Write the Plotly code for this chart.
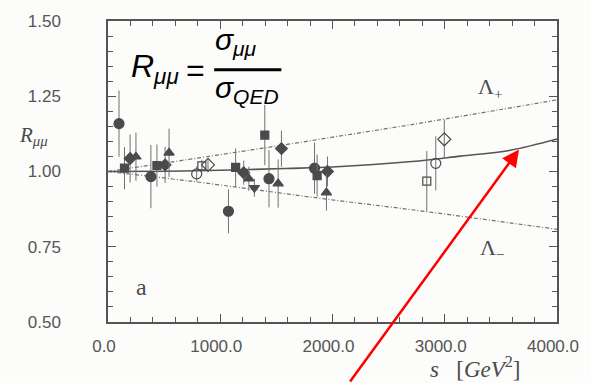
import plotly.graph_objects as go

# ---------------- data ----------------
circ_s = [98, 382, 1073, 1434, 1840]
circ_r = [1.159, 0.983, 0.868, 0.976, 1.011]
circ_e = [0.11, 0.105, 0.073, 0.095, 0.085]

sq_s = [147, 436, 1137, 1397, 1863]
sq_r = [1.011, 1.020, 1.014, 1.121, 0.986]
sq_e = [0.07, 0.07, 0.063, 0.10, 0.07]

dia_s = [197, 509, 1209, 1545, 1955]
dia_r = [1.043, 1.022, 0.996, 1.076, 1.000]
dia_e = [0.08, 0.06, 0.04, 0.06, 0.05]

tri_s = [249, 544, 1255, 1516, 1946]
tri_r = [1.049, 1.062, 0.976, 0.960, 0.930]
tri_e = [0.08, 0.08, 0.04, 0.08, 0.06]

itri_s = [1304]
itri_r = [0.946]
itri_e = [0.03]

ocirc_s = [790, 2920]
ocirc_r = [0.992, 1.027]
ocirc_e = [0.025, 0.09]

osq_s = [836, 2840]
osq_r = [1.019, 0.968]
osq_e = [0.02, 0.10]

odia_s = [891, 2996]
odia_r = [1.022, 1.107]
odia_e = [0.02, 0.065]

# theory curves
sm_s = [0, 500, 1000, 1579, 2000, 2707, 3141, 3575, 4000]
sm_r = [1.000, 1.001, 1.004, 1.010, 1.015, 1.033, 1.051, 1.070, 1.108]
lp_s = [0, 1000, 1579, 2000, 2707, 3500, 4000]
lp_r = [1.000, 1.056, 1.089, 1.114, 1.156, 1.206, 1.238]
lm_s = [0, 711, 2013, 2707, 4000]
lm_r = [1.000, 0.969, 0.905, 0.873, 0.808]

x_ticks = [0, 1000, 2000, 3000, 4000]
x_labels = ["0.0", "1000.0", "2000.0", "3000.0", "4000.0"]
y_ticks = [0.50, 0.75, 1.00, 1.25, 1.50]
y_labels = ["0.50", "0.75", "1.00", "1.25", "1.50"]

# ---------------- figure ----------------
W, H = 591, 383
L, R, T, B = 108, 22, 13, 61
ink = "#4a4a4a"
grey = "#707070"

def px(x):
    return (x - L) / (W - L - R)

def py(y):
    return (H - B - y) / (H - T - B)

fig = go.Figure()

def add_pts(s, r, e, symbol, size):
    fig.add_trace(go.Scatter(
        x=s, y=r, mode="markers",
        marker=dict(symbol=symbol, size=size, color=ink,
                    line=dict(color=ink, width=1.2)),
        error_y=dict(type="data", array=e, visible=True, color=grey,
                     thickness=1, width=0),
        showlegend=False))

# curves
fig.add_trace(go.Scatter(x=lp_s, y=lp_r, mode="lines", line_shape="spline",
                         line=dict(color=grey, width=1.2, dash="4px,2px,1px,2px"),
                         showlegend=False))
fig.add_trace(go.Scatter(x=lm_s, y=lm_r, mode="lines", line_shape="spline",
                         line=dict(color=grey, width=1.2, dash="4px,2px,1px,2px"),
                         showlegend=False))
fig.add_trace(go.Scatter(x=sm_s, y=sm_r, mode="lines", line_shape="spline",
                         line=dict(color="#555555", width=1.6),
                         showlegend=False))

add_pts(circ_s, circ_r, circ_e, "circle", 10)
add_pts(sq_s, sq_r, sq_e, "square", 8)
add_pts(dia_s, dia_r, dia_e, "diamond", 9)
add_pts(tri_s, tri_r, tri_e, "triangle-up", 9)
add_pts(itri_s, itri_r, itri_e, "triangle-down", 9)
add_pts(ocirc_s, ocirc_r, ocirc_e, "circle-open", 10)
add_pts(osq_s, osq_r, osq_e, "square-open", 8)
add_pts(odia_s, odia_r, odia_e, "diamond-open", 10)

axis_common = dict(showline=True, linecolor="#555555", linewidth=1.5,
                   mirror="allticks", ticks="inside", ticklen=8,
                   tickcolor="#555555", tickwidth=1, showgrid=False,
                   zeroline=False,
                   tickfont=dict(family="Liberation Sans", size=17, color="#555555"))

fig.update_xaxes(range=[0, 4000], tickvals=x_ticks, ticktext=x_labels,
                 minor=dict(dtick=200, ticks="inside", ticklen=5,
                            tickcolor="#555555", showgrid=False),
                 ticklabelstandoff=8, ticklabelshift=-4, **axis_common)
fig.update_yaxes(range=[0.5, 1.5], tickvals=y_ticks, ticktext=y_labels,
                 minor=dict(dtick=0.05, ticks="inside", ticklen=5,
                            tickcolor="#555555", showgrid=False),
                 ticklabelstandoff=42, **axis_common)

ann = []
serif = "Liberation Serif"

def note(x, y, text, font, xa="center", ya="middle"):
    ann.append(dict(x=px(x), y=py(y), xref="paper", yref="paper",
                    xanchor=xa, yanchor=ya, text=text, showarrow=False,
                    font=font))

note(31, 131, "<i>R<sub>μμ</sub></i>", dict(family=serif, size=21, color=ink))
note(485, 369, "<i>s</i>   [<i>GeV</i><sup>2</sup>]", dict(family=serif, size=23, color=ink))
note(486, 82, "Λ<sub>+</sub>", dict(family=serif, size=22, color=ink), xa="left")
note(488, 247, "Λ<sub>−</sub>", dict(family=serif, size=22, color=ink), xa="left")
note(142, 286, "a", dict(family=serif, size=24, color=ink))

# formula overlay
sans = "Liberation Sans"
note(130, 62, "<i>R<sub>μμ</sub></i>", dict(family=sans, size=32, color="black"), xa="left")
note(198, 63, "=", dict(family=sans, size=32, color="black"))
note(216, 34, "<i>σ<sub>μμ</sub></i>", dict(family=sans, size=30, color="black"), xa="left")
note(216, 83, "<i>σ<sub>QED</sub></i>", dict(family=sans, size=30, color="black"), xa="left")

# red arrow
hx, hy = 530, 145
ann.append(dict(x=px(hx), y=py(hy), xref="paper", yref="paper",
                ax=360 - hx, ay=386 - hy,
                text="", showarrow=True, arrowhead=2, arrowsize=1.35,
                arrowwidth=2.5, arrowcolor="#ff0000"))

fig.update_layout(
    width=W, height=H,
    margin=dict(l=L, r=R, t=T, b=B, pad=0),
    paper_bgcolor="#fcfcfa", plot_bgcolor="#fcfcfa",
    annotations=ann,
    shapes=[dict(type="line", xref="paper", yref="paper",
                 x0=px(217), x1=px(286), y0=py(63), y1=py(63),
                 line=dict(color="black", width=3))],
)

fig.write_html("out.html")
